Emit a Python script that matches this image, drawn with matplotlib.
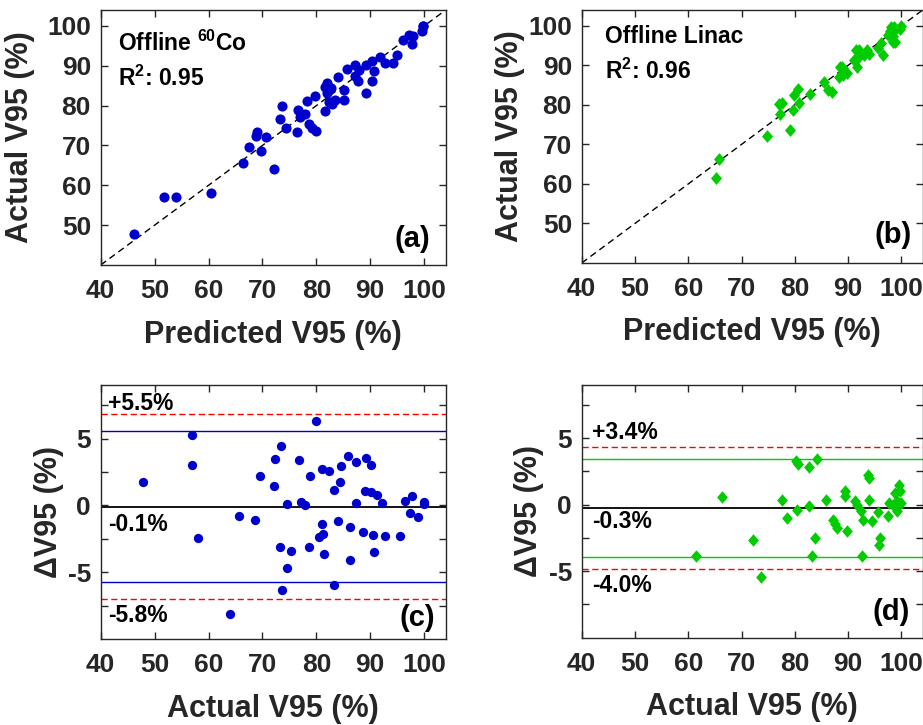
import numpy as np
import matplotlib
matplotlib.use("Agg")
import matplotlib.pyplot as plt

plt.rcParams["font.family"] = ["Liberation Sans", "DejaVu Sans"]
plt.rcParams["font.weight"] = "bold"
plt.rcParams["mathtext.fontset"] = "custom"
plt.rcParams["mathtext.rm"] = "Liberation Sans:bold"
plt.rcParams["mathtext.bf"] = "Liberation Sans:bold"

# Offline 60Co: actual V95 and difference (actual - predicted) (a)/(c)
co_actual = [47.9, 57.0, 57.0, 58.0, 64.0, 65.7, 68.7, 69.6, 72.2, 72.3, 73.5, 73.3, 73.6, 74.5,
             75.3, 74.5, 76.7, 77.2, 77.9, 78.8, 78.6, 79.9, 80.5, 81.3, 81.0, 81.1, 82.3, 81.5,
             83.2, 83.2, 84.0, 84.4, 84.6, 85.8, 86.2, 86.3, 87.3, 87.4, 88.7, 89.0, 89.3, 90.1,
             90.2, 90.6, 90.7, 91.2, 92.1, 92.7, 95.5, 96.5, 97.8, 97.4, 98.8, 100.0, 99.9]
co_diff = [1.75, 5.3, 3.0, -2.45, -8.12, -0.77, -1.12, 2.18, 1.45, 3.48, 4.45, -3.12, -6.3, 0.1,
           -3.4, -4.7, 3.4, 0.25, 0.0, 2.23, -3.07, 6.3, -2.35, -2.15, -1.4, 2.75, 2.6, -3.62,
           1.15, -5.95, -1.15, 1.75, 2.95, 3.73, -1.62, -4.07, 3.28, 0.2, -2.0, 1.05, 3.55, 3.0,
           0.97, -2.2, -3.5, 0.8, 0.2, -2.25, -2.25, 0.35, 0.67, -0.57, -0.85, 0.25, 0.1]

# Offline Linac: actual V95 and difference (b)/(d)
li_actual = [61.4, 66.3, 72.2, 73.7, 77.6, 78.6, 80.3, 80.6, 80.5, 82.6, 82.7, 84.1, 83.8, 83.2,
             85.8, 87.1, 87.6, 88.0, 89.5, 89.5, 89.7, 91.3, 91.6, 92.5, 92.8, 92.6, 93.8, 94.0,
             94.0, 94.5, 95.6, 95.9, 95.8, 97.5, 97.7, 98.8, 99.2, 99.6, 99.7, 100.0, 99.1, 98.5]
li_diff = [-3.83, 0.55, -2.67, -5.43, 0.33, -1.0, 3.3, 3.05, -0.37, 2.8, -0.08, 3.45, -2.5, -3.87,
           0.38, -1.13, -1.45, -1.75, 1.05, 0.63, -2.0, 0.25, -0.05, -0.5, -1.13, -3.87, 2.25, 2.0,
           0.38, -1.2, -0.57, -2.5, -3.0, -0.88, 0.13, 0.88, -0.45, 1.5, 1.0, 0.13, 0.25, 0.0]

co_stats = {"bias": -0.1, "loa": [5.55, -5.75], "ci": [6.86, -7.02], "r2": 0.95}
li_stats = {"bias": -0.23, "loa": [3.4, -3.9], "ci": [4.33, -4.8], "r2": 0.96}
co_labels = ["+5.5%", "-0.1%", "-5.8%"]
li_labels = ["+3.4%", "-0.3%", "-4.0%"]

blue = "#0000CC"
green = "#00CC00"
ink = "#262626"
diamond = [(0, 1), (0.86, 0), (0, -1), (-0.86, 0), (0, 1)]

W, H = 923, 725
fig = plt.figure(figsize=(W / 100, H / 100), dpi=100)


def px_axes(left, top, right, bottom):
    return fig.add_axes([left / W, 1 - bottom / H, (right - left) / W, (bottom - top) / H])


def style(ax, ylab_x):
    for sp in ax.spines.values():
        sp.set_color(ink)
        sp.set_linewidth(1.0)
    ax.tick_params(direction="in", top=True, right=True, length=5, width=1.0,
                   colors=ink, labelsize=19)
    for lab in ax.get_xticklabels() + ax.get_yticklabels():
        lab.set_fontweight("bold")
    ax.tick_params(axis="x", pad=10)
    ax.tick_params(axis="y", pad=7)
    ax.xaxis.set_label_coords(0.5, -0.215)
    ax.yaxis.set_label_coords(ylab_x, 0.5)


def scatter_panel(ax, actual, diff, marker, color, ms, title, r2, tag, txt_xy, tag_xy, ylab_x):
    actual = np.array(actual)
    pred = actual - np.array(diff)
    ax.plot([40, 104], [40, 104], color="black", lw=1.0, linestyle=(0, (4.8, 3.1)))
    ax.plot(pred, actual, linestyle="", marker=marker, color=color, markersize=ms,
            markeredgewidth=0)
    ax.set_xlim(40, 104)
    ax.set_ylim(40, 104)
    ax.set_xticks(np.arange(40, 101, 10))
    ax.set_yticks(np.arange(50, 101, 10))
    ax.text(txt_xy[0], txt_xy[1], title, transform=ax.transAxes, fontsize=16.5,
            fontweight="bold", va="center", ha="left")
    ax.text(txt_xy[0], txt_xy[2], f"R$^{{2}}$: {r2:.2f}", transform=ax.transAxes,
            fontsize=16.5, fontweight="bold", va="center", ha="left")
    ax.text(tag_xy[0], tag_xy[1], tag, transform=ax.transAxes, fontsize=21,
            fontweight="bold", ha="right", va="center")
    ax.set_xlabel("Predicted V95 (%)", fontsize=22, fontweight="bold", color=ink)
    ax.set_ylabel("Actual V95 (%)", fontsize=22, fontweight="bold", color=ink)
    style(ax, ylab_x)


def ba_panel(ax, actual, diff, marker, color, ms, stats, labels, label_xy, tag, tag_xy, ylab_x):
    ax.axhline(stats["bias"], color="black", lw=1.3)
    for v in stats["loa"]:
        ax.axhline(v, color=color, lw=1.0)
    for v in stats["ci"]:
        ax.axhline(v, color="red", lw=1.0, linestyle=(0, (4.5, 2.5)))
    ax.plot(actual, diff, linestyle="", marker=marker, color=color, markersize=ms,
            markeredgewidth=0)
    ax.set_xlim(40, 104)
    ax.set_ylim(-10, 9)
    ax.set_xticks(np.arange(40, 101, 10))
    yt = np.arange(-7.5, 8.0, 2.5)
    ax.set_yticks(yt)
    ax.set_yticklabels(["" if v % 5 else f"{v:.0f}" for v in yt])
    for txt, y in zip(labels, label_xy[1:]):
        ax.text(label_xy[0], y, txt, fontsize=16.5, fontweight="bold", ha="left", va="center")
    ax.text(tag_xy[0], tag_xy[1], tag, transform=ax.transAxes, fontsize=21,
            fontweight="bold", ha="right", va="center")
    ax.set_xlabel("Actual V95 (%)", fontsize=22, fontweight="bold", color=ink)
    ax.set_ylabel("ΔV95 (%)", fontsize=22, fontweight="bold", color=ink)
    style(ax, ylab_x)


ax_a = px_axes(100.7, 10, 445.7, 265)
ax_b = px_axes(581.7, 10, 922.7, 263)
ax_c = px_axes(100.7, 385, 445.7, 639.3)
ax_d = px_axes(581.7, 385, 922.7, 637.7)

scatter_panel(ax_a, co_actual, co_diff, "o", blue, 7.3, r"Offline $^{\mathbf{60}}$Co",
              co_stats["r2"], "(a)", (0.05, 0.87, 0.733), (0.954, 0.102), -0.19)
scatter_panel(ax_b, li_actual, li_diff, diamond, green, 9.2, "Offline Linac",
              li_stats["r2"], "(b)", (0.068, 0.897, 0.756), (0.968, 0.11), -0.166)
ba_panel(ax_c, co_actual, co_diff, "o", blue, 6.7, co_stats, co_labels,
         (41.4, 7.6, -1.4, -8.2), "(c)", (0.969, 0.083), -0.107)
ba_panel(ax_d, li_actual, li_diff, diamond, green, 9.0, li_stats, li_labels,
         (42.0, 5.4, -1.25, -6.1), "(d)", (0.963, 0.103), -0.11)

fig.savefig("out.png", dpi=100)
